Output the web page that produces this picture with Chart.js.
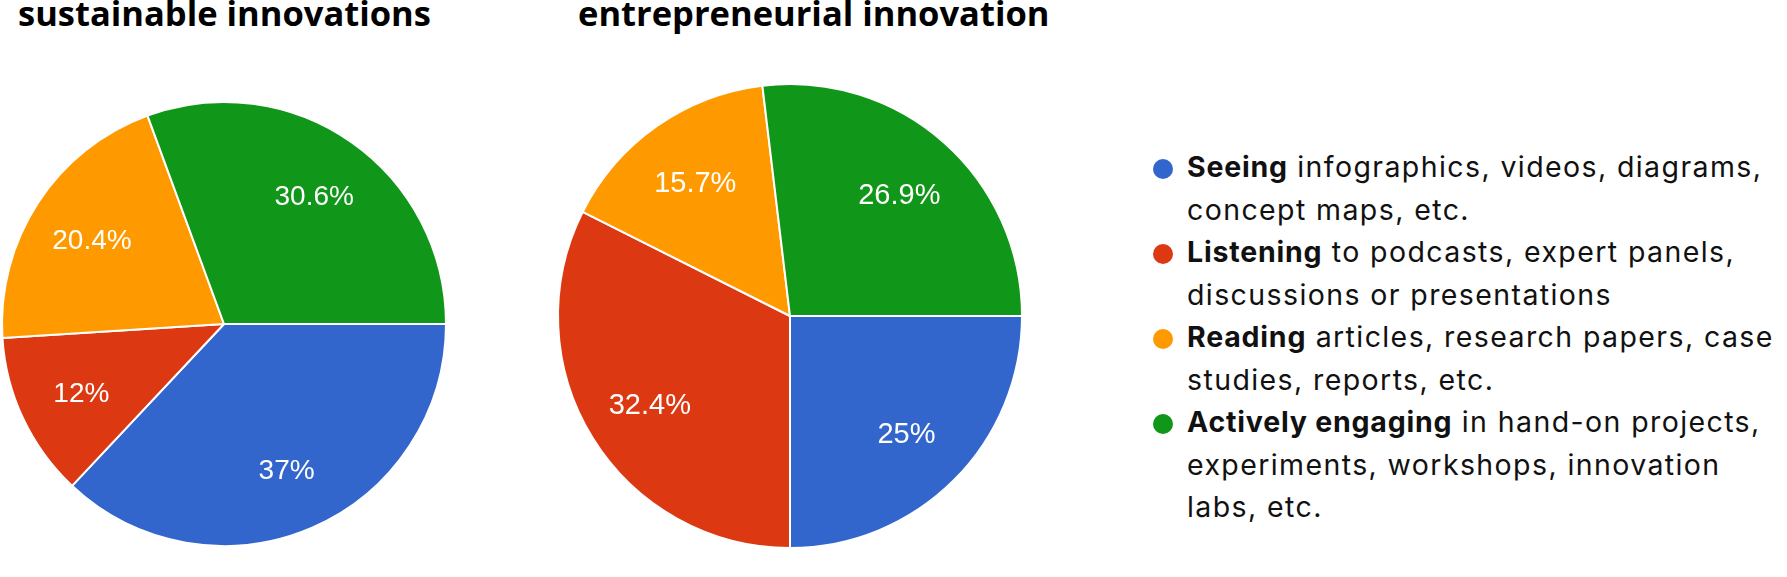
<!DOCTYPE html>
<html>
<head>
<meta charset="utf-8">
<script src="https://cdn.jsdelivr.net/npm/chart.js@4/dist/chart.umd.min.js"></script>
<style>
  html, body { margin: 0; padding: 0; background: #fff; }
  #wrap { position: relative; width: 1787px; height: 577px; overflow: hidden; }
  .title { position: absolute; font-family: "Open Sans", sans-serif; font-weight: 700; color: #000; white-space: nowrap; line-height: 1; }
  .pie { position: absolute; }
  #legend { position: absolute; left: 1187px; top: 146px; font-family: Inter, sans-serif; font-size: 28.5px; letter-spacing: 1.4px; line-height: 42.5px; color: #111; }
  .item { position: relative; white-space: nowrap; }
  .item b { font-weight: 700; letter-spacing: 0.8px; }
  .dot { position: absolute; left: -34px; top: 13px; width: 20px; height: 20px; border-radius: 50%; }
</style>
</head>
<body>
<div id="wrap">
  <div class="title" id="t1"></div>
  <div class="title" id="t2"></div>
  <div class="pie" style="left:-16px;top:84px;width:480px;height:480px"><canvas id="pie1" width="480" height="480"></canvas></div>
  <div class="pie" style="left:550px;top:76px;width:480px;height:480px"><canvas id="pie2" width="480" height="480"></canvas></div>
  <div id="legend"></div>
</div>
<script>
const categories = ['Seeing', 'Listening', 'Reading', 'Actively engaging'];
const legendRest = [
  [' infographics, videos, diagrams,', 'concept maps, etc.'],
  [' to podcasts, expert panels,', 'discussions or presentations'],
  [' articles, research papers, case', 'studies, reports, etc.'],
  [' in hand-on projects,', 'experiments, workshops, innovation', 'labs, etc.']
];
const colors = ['#3366cc', '#dc3912', '#ff9900', '#109618'];
const sustainableValues = [37, 12, 20.4, 30.6];
const entrepreneurialValues = [25, 32.4, 15.7, 26.9];
const titles = ['sustainable innovations', 'entrepreneurial innovation'];

// titles
const t1 = document.getElementById('t1');
const t2 = document.getElementById('t2');
t1.textContent = titles[0];
t2.textContent = titles[1];
t1.style.cssText += 'left:18px;top:-4px;font-size:34.5px;';
t2.style.cssText += 'left:578px;top:-4px;font-size:34.5px;';

// legend
const legend = document.getElementById('legend');
categories.forEach(function (cat, i) {
  const lines = legendRest[i];
  lines.forEach(function (line, j) {
    const div = document.createElement('div');
    div.className = 'item';
    if (j === 0) {
      const dot = document.createElement('span');
      dot.className = 'dot';
      dot.style.background = colors[i];
      div.appendChild(dot);
      const b = document.createElement('b');
      b.textContent = cat;
      div.appendChild(b);
    }
    div.appendChild(document.createTextNode(line));
    legend.appendChild(div);
  });
});

// percent labels inside the slices
const sliceLabels = {
  id: 'sliceLabels',
  afterDatasetsDraw(chart, args, opts) {
    const ctx = chart.ctx;
    const meta = chart.getDatasetMeta(0);
    const data = chart.data.datasets[0].data;
    ctx.save();
    ctx.fillStyle = '#fff';
    ctx.font = opts.size + 'px "Liberation Sans", Arial, sans-serif';
    ctx.textAlign = 'center';
    ctx.textBaseline = 'middle';
    meta.data.forEach(function (arc, i) {
      const p = arc.getProps(['x', 'y', 'startAngle', 'endAngle', 'outerRadius'], true);
      const mid = (p.startAngle + p.endAngle) / 2;
      const r = p.outerRadius * 0.71;
      ctx.fillText(data[i] + '%', p.x + Math.cos(mid) * r, p.y + Math.sin(mid) * r + 3);
    });
    ctx.restore();
  }
};

function makePie(id, values, radius, labelSize) {
  return new Chart(document.getElementById(id), {
    type: 'pie',
    data: {
      labels: categories,
      datasets: [{
        data: values,
        backgroundColor: colors,
        borderColor: '#fff',
        borderWidth: 2,
        hoverOffset: 0
      }]
    },
    options: {
      responsive: false,
      animation: false,
      rotation: 90,
      radius: radius,
      layout: { padding: 0 },
      events: [],
      plugins: {
        legend: { display: false },
        tooltip: { enabled: false },
        sliceLabels: { size: labelSize }
      }
    },
    plugins: [sliceLabels]
  });
}

makePie('pie1', sustainableValues, 222, 28);
makePie('pie2', entrepreneurialValues, 232, 29);
</script>
</body>
</html>
